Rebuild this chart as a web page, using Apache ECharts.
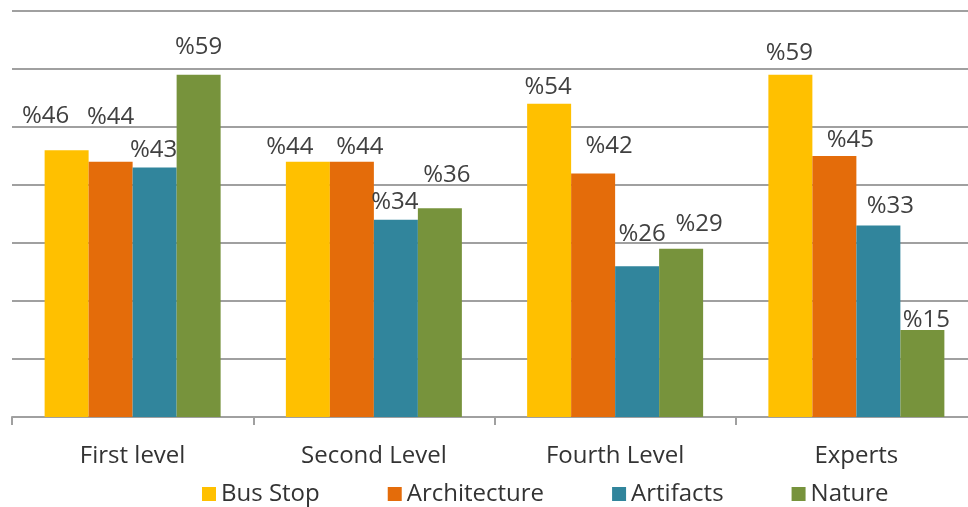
<!DOCTYPE html>
<html>
<head>
<meta charset="utf-8">
<script src="https://cdn.jsdelivr.net/npm/echarts@6/dist/echarts.min.js"></script>
<style>
html, body { margin: 0; padding: 0; background: #fff; }
#chart { width: 968px; height: 507px; }
</style>
</head>
<body>
<div id="chart"></div>
<script>
var categories = ['First level', 'Second Level', 'Fourth Level', 'Experts'];
var busStop = [46, 44, 54, 59];
var architecture = [44, 44, 42, 45];
var artifacts = [43, 34, 26, 33];
var nature = [59, 36, 29, 15];

// label nudges (px), to follow the hand-placed labels of the original
var labelOffsets = {
    'Bus Stop': [[-21, -17], [-18, 2], [-1, 0], [-1, -5]],
    'Architecture': [[0, -28], [8, 2], [16, -10], [16, 1]],
    'Artifacts': [[-1, 0], [-1, -1], [5, -15], [12, -2]],
    'Nature': [[0, -11], [7, -16], [18, -8], [4, 7]]
};

var colors = ['#FFC000', '#E46C0A', '#31859C', '#77933C'];
var font = '"Open Sans", "Noto Sans", sans-serif';

function makeSeries(name, values, color) {
    return {
        name: name,
        type: 'bar',
        barWidth: 44,
        barGap: 0,
        itemStyle: { color: color },
        data: values.map(function (v, i) {
            return {
                value: v,
                label: { offset: labelOffsets[name][i] }
            };
        }),
        label: {
            show: true,
            position: 'top',
            distance: 5,
            formatter: '%{c}',
            color: '#404040',
            fontSize: 24,
            fontFamily: font
        }
    };
}

var chart = echarts.init(document.getElementById('chart'));
var option = {
    animation: false,
    color: colors,
    grid: {
        left: 12,
        right: -9,
        top: 11,
        bottom: 90,
        outerBoundsMode: 'none'
    },
    legend: {
        data: ['Bus Stop', 'Architecture', 'Artifacts', 'Nature'],
        left: 197,
        top: 477,
        itemWidth: 14,
        itemHeight: 14,
        itemGap: 68,
        icon: 'rect',
        textStyle: { fontSize: 24, color: '#333', fontFamily: font }
    },
    xAxis: {
        type: 'category',
        data: categories,
        axisLine: { lineStyle: { color: '#a0a0a0', width: 2 } },
        axisTick: { show: true, length: 8, lineStyle: { color: '#a0a0a0', width: 2 } },
        axisLabel: { fontSize: 24, color: '#333', margin: 27, fontFamily: font }
    },
    yAxis: {
        type: 'value',
        min: 0,
        max: 70,
        interval: 10,
        axisLabel: { show: false },
        axisLine: { show: false },
        axisTick: { show: false },
        splitLine: { lineStyle: { color: '#a0a0a0', width: 2 } }
    },
    series: [
        makeSeries('Bus Stop', busStop, colors[0]),
        makeSeries('Architecture', architecture, colors[1]),
        makeSeries('Artifacts', artifacts, colors[2]),
        makeSeries('Nature', nature, colors[3])
    ]
};
chart.setOption(option);
</script>
</body>
</html>
